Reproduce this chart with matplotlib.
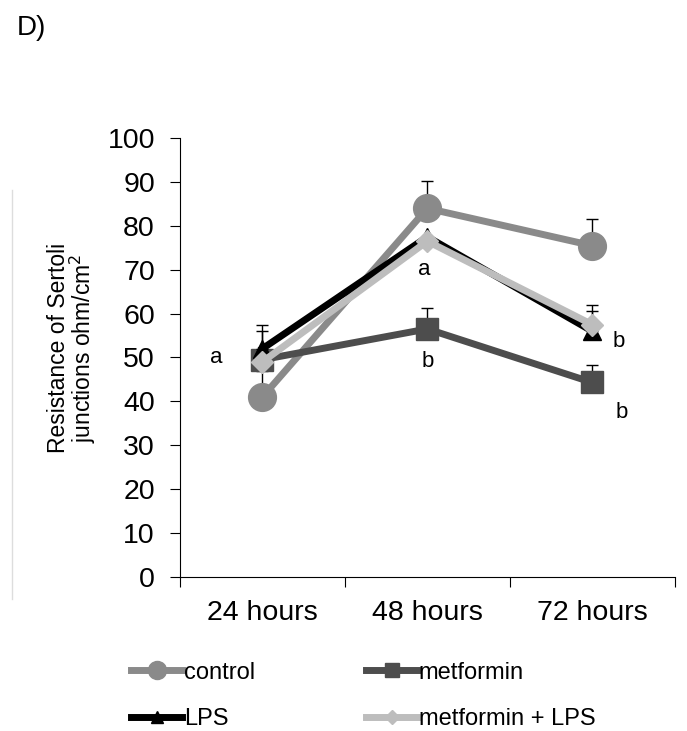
import numpy as np
import matplotlib.pyplot as plt
from matplotlib.lines import Line2D

plt.rcParams["font.family"] = ["Liberation Sans", "DejaVu Sans"]

# data
time_labels = ["24 hours", "48 hours", "72 hours"]
control = [41, 84, 75.5]
control_err = [6, 6.3, 6]
metformin = [49.5, 56.5, 44.3]
metformin_err = [6.5, 4.8, 4]
lps = [52, 77.5, 56]
lps_err = [5.3, 0, 6]
met_lps = [49, 76.5, 57.5]
met_lps_err = [0, 0, 3]

letters = ["a", "a", "b", "b", "b"]
letter_x = [-0.28, 0.98, 1.0, 2.16, 2.18]
letter_y = [50, 70, 49, 53.6, 37.4]

series = [
    ("control", control, control_err, "#8a8a8a", "o", 20),
    ("metformin", metformin, metformin_err, "#4d4d4d", "s", 16),
    ("LPS", lps, lps_err, "#000000", "^", 13),
    ("metformin + LPS", met_lps, met_lps_err, "#bdbdbd", "D", 11),
]


def main():
    fig = plt.figure(figsize=(6.87, 7.31), dpi=100)
    ax = fig.add_axes([0.262, 0.211, 0.72, 0.600])
    x = np.arange(len(time_labels))

    handles = []
    for i, (name, vals, err, color, marker, ms) in enumerate(series):
        ax.errorbar(x, vals, yerr=[np.zeros(len(err)), err], fmt="none",
                    ecolor="black", elinewidth=1, capsize=4, capthick=1,
                    zorder=1 + i)
        ax.plot(x, vals, color=color, lw=5, marker=marker, ms=ms,
                zorder=2 + i)
        handles.append(Line2D([0], [0], color=color, lw=5, marker=marker,
                              ms=ms * 0.65))

    for t, lx, ly in zip(letters, letter_x, letter_y):
        ax.text(lx, ly, t, fontsize=16, ha="center", va="center")

    ax.set_xlim(-0.5, 2.5)
    ax.set_ylim(0, 100)
    ax.set_yticks(np.arange(0, 101, 10))
    ax.set_xticks([-0.5, 0.5, 1.5, 2.5])
    ax.set_xticklabels([])
    ax.set_xticks(x, minor=True)
    ax.set_xticklabels(time_labels, minor=True)
    ax.tick_params(axis="x", which="minor", length=0, labelsize=20.5, pad=17)
    ax.tick_params(axis="x", which="major", length=7, direction="out")
    ax.tick_params(axis="y", labelsize=20.5, length=7, pad=11)
    for s in ["top", "right"]:
        ax.spines[s].set_visible(False)

    fig.text(0.106, 0.524, "Resistance of Sertoli\njunctions ohm/cm$^2$",
             rotation=90, ha="center", va="center", fontsize=16.5,
             linespacing=0.92)
    fig.text(0.024, 0.962, "D)", fontsize=20, ha="left", va="center")

    # faint border line left over from the original panel
    fig.add_artist(Line2D([0.018, 0.018], [0.18, 0.74], color="#dddddd",
                          lw=1))

    # ncol=2 fills by column: control/LPS left, metformin/metformin+LPS right
    order = [0, 2, 1, 3]
    fig.legend([handles[k] for k in order], [series[k][0] for k in order],
               loc="center left", bbox_to_anchor=(0.19, 0.048), ncol=2,
               frameon=False, fontsize=17, handlelength=2.2,
               handletextpad=0.05, columnspacing=4.7, labelspacing=1.05,
               borderaxespad=0, borderpad=0)

    fig.savefig("out.png", dpi=100)


if __name__ == "__main__":
    main()
